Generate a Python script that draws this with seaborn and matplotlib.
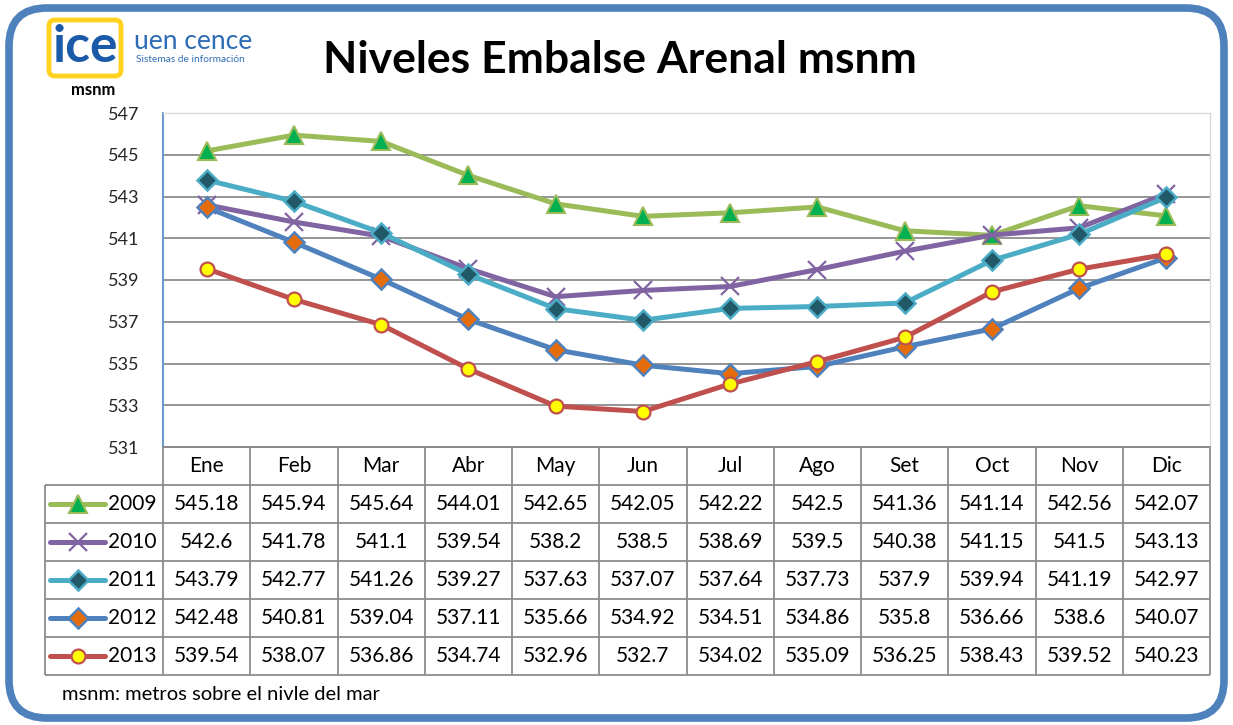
import matplotlib
matplotlib.use("Agg")
import matplotlib.pyplot as plt
import seaborn as sns
import pandas as pd
from matplotlib.patches import FancyBboxPatch

months = ["Ene", "Feb", "Mar", "Abr", "May", "Jun", "Jul", "Ago", "Set", "Oct", "Nov", "Dic"]
years = ["2009", "2010", "2011", "2012", "2013"]
lv_2009 = [545.18, 545.94, 545.64, 544.01, 542.65, 542.05, 542.22, 542.5, 541.36, 541.14, 542.56, 542.07]
lv_2010 = [542.6, 541.78, 541.1, 539.54, 538.2, 538.5, 538.69, 539.5, 540.38, 541.15, 541.5, 543.13]
lv_2011 = [543.79, 542.77, 541.26, 539.27, 537.63, 537.07, 537.64, 537.73, 537.9, 539.94, 541.19, 542.97]
lv_2012 = [542.48, 540.81, 539.04, 537.11, 535.66, 534.92, 534.51, 534.86, 535.8, 536.66, 538.6, 540.07]
lv_2013 = [539.54, 538.07, 536.86, 534.74, 532.96, 532.7, 534.02, 535.09, 536.25, 538.43, 539.52, 540.23]
y_ticks = list(range(531, 548, 2))

levels = {"2009": lv_2009, "2010": lv_2010, "2011": lv_2011, "2012": lv_2012, "2013": lv_2013}

rows = []
for yr in years:
    for i, m in enumerate(months):
        rows.append({"year": yr, "pos": i, "month": m, "level": levels[yr][i]})
df = pd.DataFrame(rows)

styles = {
    "2009": dict(color="#9BBB59", marker="^", markersize=13, markerfacecolor="#00B050",
                 markeredgecolor="#9BBB59", markeredgewidth=1.5),
    "2010": dict(color="#8064A2", marker="x", markersize=13, markerfacecolor="#8064A2",
                 markeredgecolor="#8064A2", markeredgewidth=1.6),
    "2011": dict(color="#4BACC6", marker="D", markersize=10, markerfacecolor="#215968",
                 markeredgecolor="#4BACC6", markeredgewidth=1.8),
    "2012": dict(color="#4F81BD", marker="D", markersize=10, markerfacecolor="#E46C0A",
                 markeredgecolor="#4F81BD", markeredgewidth=1.8),
    "2013": dict(color="#C0504D", marker="o", markersize=10, markerfacecolor="#FFFF00",
                 markeredgecolor="#C0504D", markeredgewidth=1.6),
}

sns.set_theme(style="white")
plt.rcParams["font.family"] = ["Lato", "DejaVu Sans"]

W, H = 1233, 725
fig = plt.figure(figsize=(W / 100, H / 100), dpi=100)

# background axes in pixel coordinates
bg = fig.add_axes([0, 0, 1, 1])
bg.set_xlim(0, W)
bg.set_ylim(H, 0)
bg.axis("off")

frame = FancyBboxPatch((9, 8), W - 18, H - 15, boxstyle="round,pad=0,rounding_size=38",
                       fc="white", ec="#4F81BD", lw=5.5)
bg.add_patch(frame)

# logo
logo = FancyBboxPatch((49, 20), 72, 56, boxstyle="round,pad=0,rounding_size=6",
                      fc="white", ec="#FFD21F", lw=3.5)
bg.add_patch(logo)
bg.text(85, 47, "ice", fontsize=37, color="#1B5AA8", ha="center", va="center", fontweight="bold")
bg.text(134, 41, "uen cence", fontsize=19, color="#2E6CB5", ha="left", va="center")
bg.text(136, 59, "Sistemas de información", fontsize=7.3, color="#2E6CB5", ha="left", va="center")
bg.text(93, 90, "msnm", fontsize=12, fontweight="bold", ha="center", va="center", color="black")

bg.text(620, 60, "Niveles Embalse Arenal msnm", fontsize=32, fontweight="bold",
        ha="center", va="center", color="black")

# plot area
L, R, T, B = 163, 1210, 113, 447
ax = fig.add_axes([L / W, 1 - B / H, (R - L) / W, (B - T) / H])
ax.patch.set_alpha(0)

for yr in years:
    sub = df[df["year"] == yr]
    sns.lineplot(data=sub, x="pos", y="level", ax=ax, lw=3.6, legend=False,
                 solid_joinstyle="round", solid_capstyle="round", **styles[yr])

ax.set_xlim(-0.5, 11.5)
ax.set_ylim(531, 547)
ax.set_yticks(y_ticks)
ax.set_yticklabels([str(t) for t in y_ticks], fontsize=13)
ax.set_xticks([])
ax.set_xlabel("")
ax.set_ylabel("")
ax.tick_params(axis="y", length=0, pad=17)
ax.yaxis.grid(True, color="#8C8C8C", lw=1.3)
ax.set_axisbelow(True)
ax.spines["left"].set_color("#6C9BD2")
ax.spines["left"].set_linewidth(1.5)
for s in ["top", "right"]:
    ax.spines[s].set_color("#D9D9D9")
    ax.spines[s].set_linewidth(1.0)
ax.spines["bottom"].set_color("#8C8C8C")
ax.spines["bottom"].set_linewidth(1.3)

# data table below the plot
cw = (R - L) / 12
rh = (674.5 - B) / 6
col_x = [L + i * cw for i in range(13)]
row_y = [B + j * rh for j in range(7)]
leg_left = 45
gc = "#8C8C8C"

bg.hlines(row_y[0], L, R, color=gc, lw=1.3)
bg.hlines(row_y[1:], leg_left, R, color=gc, lw=1.3)
bg.vlines(col_x, row_y[0], row_y[-1], color=gc, lw=1.3)
bg.vlines(leg_left, row_y[1], row_y[-1], color=gc, lw=1.3)

for i, m in enumerate(months):
    bg.text(col_x[i] + cw / 2, (row_y[0] + row_y[1]) / 2, m, fontsize=15,
            ha="center", va="center", color="black")

for j, yr in enumerate(years):
    yc = (row_y[j + 1] + row_y[j + 2]) / 2
    st = styles[yr]
    bg.plot([50, 105], [yc, yc], color=st["color"], lw=3.6, solid_capstyle="round")
    bg.plot([77.5], [yc], ls="none", **st)
    bg.text(108, yc, yr, fontsize=15, ha="left", va="center", color="black")
    for i, v in enumerate(levels[yr]):
        bg.text(col_x[i] + cw / 2, yc, f"{v:g}", fontsize=15,
                ha="center", va="center", color="black")

bg.text(62, 695, "msnm: metros sobre el nivle del mar", fontsize=14.5,
        ha="left", va="center", color="black")

fig.savefig("out.png", dpi=100)
